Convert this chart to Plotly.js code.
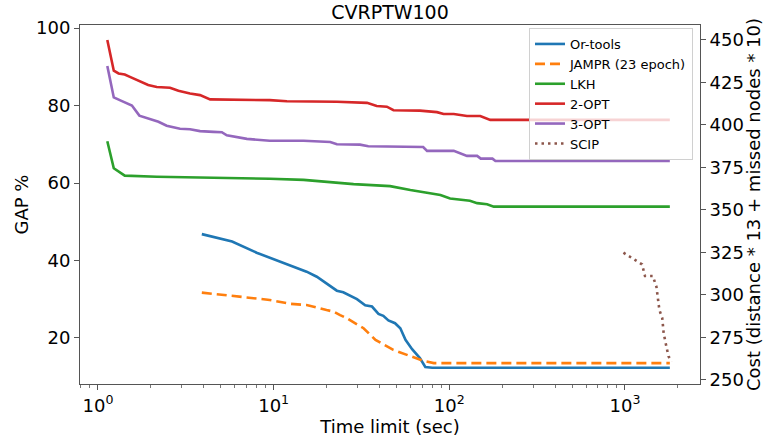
<!DOCTYPE html>
<html>
<head>
<meta charset="utf-8">
<script src="https://cdn.plot.ly/plotly-3.0.1.min.js"></script>
<style>html,body{margin:0;padding:0;background:#fff;}#chart{width:764px;height:437px;}</style>
</head>
<body>
<div id="chart"></div>
<script>
// ---- data ----
const seriesNames = ["Or-tools", "JAMPR (23 epoch)", "LKH", "2-OPT", "3-OPT", "SCIP"];

const timeOrtools = [3.9, 5.8, 8.0, 10.5, 13.5, 15.4, 17.6, 21, 22.9, 24.9, 29.8, 33.2, 36.3, 39.5, 42.1, 45, 49.1, 52.6, 56.3, 61.4, 68, 73, 80, 1800];
const gapOrtools  = [46.8, 44.9, 42.0, 39.9, 38.0, 37.1, 35.8, 33.4, 32.2, 31.8, 30.0, 28.4, 28.1, 26.2, 25.7, 24.5, 23.8, 22.5, 19.5, 17.1, 14.8, 12.5, 12.3, 12.3];

const timeJampr = [3.9, 5.65, 9.5, 12.4, 15.4, 20, 21.9, 23.9, 26, 32.5, 38, 48, 60, 71, 81.6, 1800];
const gapJampr  = [31.7, 30.9, 29.8, 28.8, 28.5, 27.2, 26.8, 25.9, 25.1, 22.5, 19.5, 16.9, 15.4, 14.1, 13.5, 13.5];

const timeLkh = [1.13, 1.23, 1.42, 2.16, 9.5, 14.8, 28.5, 46, 60, 81.6, 89, 101, 131, 144, 164, 179, 1800];
const gapLkh  = [70.8, 63.8, 61.9, 61.6, 61.1, 60.8, 59.7, 59.2, 58.2, 57.2, 56.9, 56.0, 55.4, 54.8, 54.5, 53.9, 53.9];

const time2opt = [1.13, 1.23, 1.31, 1.42, 1.52, 1.74, 1.93, 2.16, 2.57, 2.87, 3.34, 3.81, 4.35, 9.5, 11.9, 22.9, 34, 38.6, 44.1, 48.1, 68, 85, 92.8, 106, 126, 150, 171, 1800];
const gap2opt  = [96.9, 89.0, 88.3, 88.0, 87.4, 86.3, 85.3, 84.8, 84.6, 83.8, 83.1, 82.7, 81.6, 81.4, 81.1, 81.0, 80.7, 79.9, 79.7, 78.8, 78.7, 78.3, 77.8, 77.8, 77.3, 77.3, 76.3, 76.3];

const time3opt = [1.13, 1.23, 1.36, 1.56, 1.72, 1.93, 2.21, 2.46, 2.93, 3.34, 3.81, 4.54, 5.07, 5.41, 7.04, 9.5, 14.8, 21, 22.9, 31, 34.6, 71, 74.7, 106, 126, 144, 151, 176, 183, 1800];
const gap3opt  = [90.2, 82.1, 81.2, 80.0, 77.4, 76.7, 75.8, 74.8, 74.0, 73.9, 73.4, 73.2, 73.1, 72.3, 71.4, 70.9, 70.9, 70.6, 70.0, 69.9, 69.5, 69.3, 68.3, 68.3, 67.0, 67.0, 66.3, 66.3, 65.7, 65.7];

const timeScip = [980, 1090, 1250, 1300, 1440, 1510, 1540, 1570, 1630, 1660, 1720, 1770, 1850];
const gapScip  = [42.0, 40.6, 39.0, 36.0, 36.0, 33.2, 29.4, 27.2, 25.1, 21.2, 17.8, 15.2, 13.9];

const xTickVals = [1, 10, 100, 1000];
const xTickText = ["10<sup>0</sup>", "10<sup>1</sup>", "10<sup>2</sup>", "10<sup>3</sup>"];
const gapTickVals = [20, 40, 60, 80, 100];
const costTickVals = [250, 275, 300, 325, 350, 375, 400, 425, 450];

// ---- styling ----
const colors = ["#1f77b4", "#ff7f0e", "#2ca02c", "#d62728", "#9467bd", "#8c564b"];
const dashes = ["solid", "10px,5px", "solid", "solid", "solid", "2.5px,4px"];
const xs = [timeOrtools, timeJampr, timeLkh, time2opt, time3opt, timeScip];
const ys = [gapOrtools, gapJampr, gapLkh, gap2opt, gap3opt, gapScip];

const traces = seriesNames.map((n, i) => ({
  type: "scatter", mode: "lines", name: n, x: xs[i], y: ys[i],
  line: {color: colors[i], width: 2.6, dash: dashes[i]},
  hoverinfo: "skip"
}));
// invisible helper so the secondary axis is drawn
traces.push({type: "scatter", mode: "markers", x: [xTickVals[0]], y: [costTickVals[0]], yaxis: "y2",
  marker: {opacity: 0}, showlegend: false, hoverinfo: "skip"});

// minor ticks on log axis (2..9 of each decade)
const minorVals = [];
for (let d = -1; d <= 3; d++) {
  for (let k = 2; k <= 9; k++) {
    const v = k * Math.pow(10, d);
    if (v >= 0.79 && v <= 2670) minorVals.push(v);
  }
}

const axisColor = "#555";
const fam = "DejaVu Sans, sans-serif";
const txt = (s) => ({family: fam, size: s, color: "#000"});

const layout = {
  width: 764, height: 437,
  margin: {l: 80, r: 64, t: 25, b: 53, pad: 0},
  paper_bgcolor: "#fff", plot_bgcolor: "#fff",
  font: txt(18),
  showlegend: true,
  title: {text: "CVRPTW100", font: txt(19), x: 0.5, xref: "paper", xanchor: "center", y: 1 - 12 / 437, yref: "container", yanchor: "middle"},
  xaxis: {
    type: "log", range: [Math.log10(0.79), Math.log10(2673)],
    tickmode: "array", tickvals: xTickVals, ticktext: xTickText,
    ticks: "outside", ticklen: 5, tickwidth: 1, tickcolor: axisColor,
    showline: true, linecolor: axisColor, linewidth: 1, mirror: true,
    showgrid: false, zeroline: false,
    tickfont: txt(18),
    minor: {tickmode: "array", tickvals: minorVals, ticks: "outside", ticklen: 3, tickwidth: 0.8, tickcolor: axisColor, showgrid: false},
    title: {text: "Time limit (sec)", font: txt(18), standoff: 2},
    automargin: false
  },
  yaxis: {
    range: [8.1, 100.8],
    tickmode: "array", tickvals: gapTickVals,
    ticks: "outside", ticklen: 5, tickwidth: 1, tickcolor: axisColor,
    showline: true, linecolor: axisColor, linewidth: 1, mirror: true,
    showgrid: false, zeroline: false,
    tickfont: txt(18),
    title: {text: "GAP %", font: txt(18), standoff: 2},
    automargin: false
  },
  yaxis2: {
    overlaying: "y", side: "right",
    range: [247.6, 458.8],
    tickmode: "array", tickvals: costTickVals,
    ticks: "outside", ticklen: 5, tickwidth: 1, tickcolor: axisColor,
    showline: true, linecolor: axisColor, linewidth: 1,
    showgrid: false, zeroline: false,
    tickfont: txt(18),
    title: {text: "Cost (distance * 13 + missed nodes * 10)", font: txt(18), standoff: 4},
    automargin: false
  },
  legend: {
    x: 0.9887, y: (384 - 28) / 359, xanchor: "right", yanchor: "top",
    bgcolor: "rgba(255,255,255,0.8)", bordercolor: "#d0d0d0", borderwidth: 1,
    font: txt(13),
    itemwidth: 30, tracegroupgap: 0
  }
};

Plotly.newPlot("chart", traces, layout, {staticPlot: true, displayModeBar: false});
</script>
</body>
</html>
